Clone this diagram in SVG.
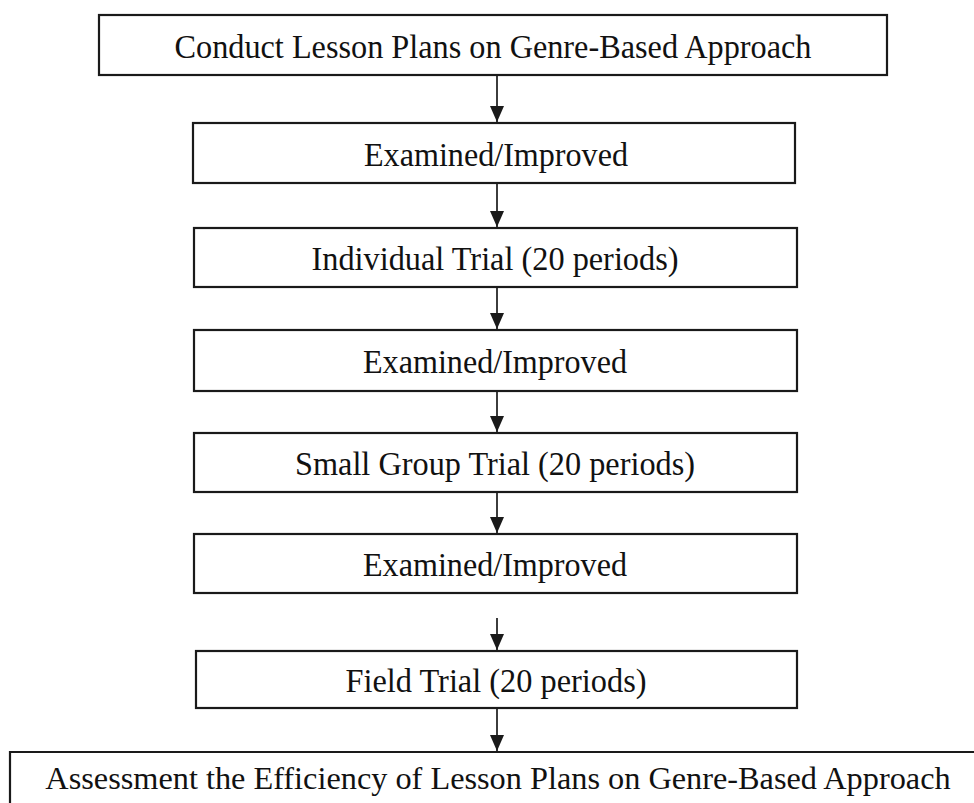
<svg xmlns="http://www.w3.org/2000/svg" width="974" height="803" viewBox="0 0 974 803">
  <style>
    .box { fill: #ffffff; stroke: #1a1a1a; stroke-width: 2.2; }
    .edge { fill: none; stroke: #1a1a1a; stroke-width: 2.2; }
    .lbl { font-family: "Liberation Serif", "Times New Roman", serif; font-size: 34px; fill: #111111; text-anchor: middle; }
    .lbl.wide { font-size: 32.3px; }
    .link { stroke: #1a1a1a; stroke-width: 1.7; fill: none; marker-end: url(#head); }
  </style>
  <defs>
    <!-- filled triangular head, tip at the end of the line -->
    <marker id="head" viewBox="0 0 16 14" refX="16" refY="7" markerWidth="16" markerHeight="14" markerUnits="userSpaceOnUse" orient="auto">
      <path d="M0,0 L16,7 L0,14 Z" fill="#1a1a1a"/>
    </marker>
  </defs>
  <rect width="974" height="803" fill="#ffffff"/>

  <!-- connectors -->
  <g id="connectors">
    <line class="link" x1="497" y1="76" x2="497" y2="122"/>
    <line class="link" x1="497" y1="184" x2="497" y2="227"/>
    <line class="link" x1="497" y1="288" x2="497" y2="329"/>
    <line class="link" x1="497" y1="392" x2="497" y2="432"/>
    <line class="link" x1="497" y1="493" x2="497" y2="533"/>
    <line class="link" x1="497" y1="618" x2="497" y2="650"/>
    <line class="link" x1="497" y1="709" x2="497" y2="751"/>
  </g>

  <g id="conduct">
    <rect class="box" x="99" y="15" width="788" height="60"/>
    <text class="lbl" x="493" y="58" textLength="637" lengthAdjust="spacingAndGlyphs">Conduct Lesson Plans on Genre-Based Approach</text>
  </g>
  <g id="examined-1">
    <rect class="box" x="193" y="123" width="602" height="60"/>
    <text class="lbl" x="496" y="166" textLength="264" lengthAdjust="spacingAndGlyphs">Examined/Improved</text>
  </g>
  <g id="individual">
    <rect class="box" x="194" y="228" width="603" height="59"/>
    <text class="lbl" x="495" y="270" textLength="367" lengthAdjust="spacingAndGlyphs">Individual Trial (20 periods)</text>
  </g>
  <g id="examined-2">
    <rect class="box" x="194" y="330" width="603" height="61"/>
    <text class="lbl" x="495" y="373" textLength="264" lengthAdjust="spacingAndGlyphs">Examined/Improved</text>
  </g>
  <g id="small-group">
    <rect class="box" x="194" y="433" width="603" height="59"/>
    <text class="lbl" x="495" y="475" textLength="400" lengthAdjust="spacingAndGlyphs">Small Group Trial (20 periods)</text>
  </g>
  <g id="examined-3">
    <rect class="box" x="194" y="534" width="603" height="59"/>
    <text class="lbl" x="495" y="576" textLength="264" lengthAdjust="spacingAndGlyphs">Examined/Improved</text>
  </g>
  <g id="field">
    <rect class="box" x="196" y="651" width="601" height="57"/>
    <text class="lbl" x="496" y="692" textLength="301" lengthAdjust="spacingAndGlyphs">Field Trial (20 periods)</text>
  </g>
  <!-- last box continues past the right and bottom edges: only its top and left sides show -->
  <g id="assessment">
    <rect x="10" y="752" width="964" height="51" fill="#ffffff"/>
    <path class="edge" d="M10,803 V752 H974"/>
    <text class="lbl wide" x="498" y="789">Assessment the Efficiency of Lesson Plans on Genre-Based Approach</text>
  </g>
</svg>
